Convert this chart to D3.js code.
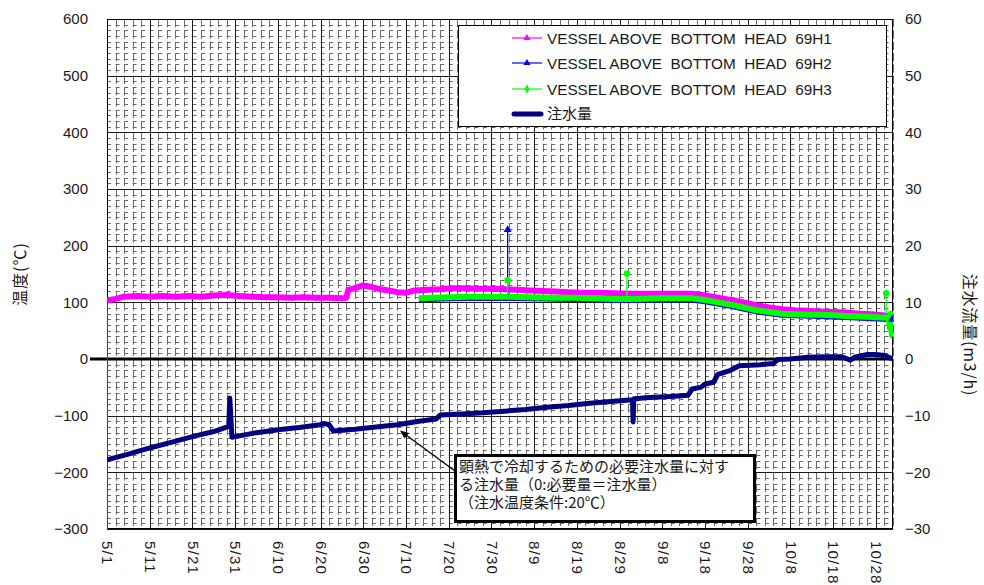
<!DOCTYPE html>
<html><head><meta charset="utf-8">
<script src="https://cdn.jsdelivr.net/npm/d3@7"></script>
<style>
body{margin:0;background:#fff}
svg{display:block}
text{font-family:"Liberation Sans",Arial,sans-serif;fill:#1a1a1a}
.cjk{font-family:"Noto Sans CJK JP","Noto Sans CJK SC",sans-serif}
</style>
</head><body>
<svg id="c" width="984" height="585"></svg>
<script>
// ---------------- data ----------------
const xTickLabels = ["5/1","5/11","5/21","5/31","6/10","6/20","6/30","7/10","7/20","7/30","8/9","8/19","8/29","9/8","9/18","9/28","10/8","10/18","10/28"];
const leftTicks = [600,500,400,300,200,100,0,-100,-200,-300];
const rightTicks = [60,50,40,30,20,10,0,-10,-20,-30];

const h1Dates = ["5/1 1","5/3","5/5","5/8","5/11","5/14","5/17","5/20","5/23","5/26","5/29","6/1","6/4","6/7","6/10","6/13","6/16","6/19","6/22","6/25","6/26","6/26 12","6/28","6/30","7/2","7/4","7/6","7/8","7/10","7/12","7/15","7/18","7/21","7/24","7/27","7/30","8/2","8/5","8/8","8/11","8/14","8/17","8/20","8/24","8/28","9/1","9/5","9/10","9/15","9/18","9/21","9/24","9/27","9/30","10/3","10/6","10/9","10/12","10/15","10/18","10/21","10/24","10/27","10/30","11/1"];
const h1Values = [103,106,110,111,110,111,110,111,110,112,113,111,110,109,109,108,109,108,108,107,108,122,125,130,127,123,121,118,117,121,122,123,125,125,124,124,123,122,121,120,119,118,117,117,116,115,115,115,115,112,108,104,100,95,91,88,86,85,84,83,82,80,79,77,74];

const h2Dates = ["7/13","7/20","7/30","8/8","8/18","8/28","9/7","9/15","9/18","9/21","9/24","9/27","9/30","10/3","10/6","10/9","10/15","10/21","10/27","10/30","10/31 19"];
const h2Values = [105,107,108,107,106,104,105,105,102,98,94,89,84,81,78,77,76,74,72,71,70];

const h3Dates = ["7/13","7/16","7/20","7/25","7/30","8/3","8/8","8/13","8/18","8/23","8/28","9/2","9/7","9/12","9/15","9/18","9/21","9/24","9/27","9/30","10/3","10/6","10/9","10/12","10/15","10/18","10/21","10/24","10/27","10/30","10/31","10/31 6","10/31 12","10/31 18","11/1"];
const h3Values = [107,108,109,110,110,110,109,108,108,107,106,106,107,107,107,104,100,96,91,86,83,80,79,78,78,77,76,75,74,73,72,55,80,42,40];

const flowDates = ["5/1","5/6","5/11","5/16","5/21","5/26","5/29 12","5/29 18","5/30 6","5/31","6/5","6/10","6/15","6/20","6/21","6/22","6/23","6/28","7/3","7/8","7/13","7/17","7/18","7/23","7/28","8/2","8/7","8/12","8/17","8/22","8/27","9/1","9/1 4","9/1 8","9/5","9/10","9/14","9/15","9/17","9/18","9/20","9/21","9/24","9/26","10/1","10/4","10/5","10/8","10/12","10/16","10/20","10/22","10/23","10/26","10/28","10/30","11/1"];
const flowValues = [-17.8,-16.8,-15.7,-14.7,-13.7,-12.8,-11.9,-6.9,-13.8,-13.7,-13.0,-12.5,-12.1,-11.6,-11.4,-11.6,-12.7,-12.4,-12.0,-11.6,-11.0,-10.6,-9.9,-9.7,-9.5,-9.2,-8.9,-8.5,-8.2,-7.8,-7.5,-7.2,-11.1,-7.0,-6.8,-6.6,-6.4,-5.3,-5.0,-4.4,-4.1,-2.7,-2.0,-1.2,-1.0,-0.8,-0.1,0.0,0.3,0.4,0.4,-0.2,0.3,0.8,0.8,0.6,0.0];

// single-reading spikes
const spikeSeries = ["H1","H2","H3","H3","H3"];
const spikeDates = ["5/1","8/2 19","8/2 19","8/30 17","10/30 10"];
const spikeFrom = [103,110,110,107,74];
const spikeTo = [-300,228,139,151,116];

const legendLabels = ["VESSEL ABOVE  BOTTOM  HEAD  69H1","VESSEL ABOVE  BOTTOM  HEAD  69H2","VESSEL ABOVE  BOTTOM  HEAD  69H3","注水量"];
const noteLines = ["顕熱で冷却するための必要注水量に対す","る注水量（0:必要量＝注水量）","（注水温度条件:20℃）"];
const leftTitle = "温度(℃)";
const rightTitle = "注水流量(m3/h)";

// ---------------- setup ----------------
const parse = d3.timeParse("%Y/%m/%d %H");
const P = s => parse("2011/" + (s.includes(" ") ? s : s + " 0"));
const zip = (ds, vs) => ds.map((d, i) => ({date: P(d), v: vs[i]}));

const L = 107, R = 893, T = 19, B = 529;
const svg = d3.select("#c");
const x = d3.scaleTime().domain([P("5/1"), P("11/1")]).range([L, R]);
const yL = d3.scaleLinear().domain([-300, 600]).range([B, T]);
const yR = d3.scaleLinear().domain([-30, 60]).range([B, T]);

svg.append("defs").append("clipPath").attr("id","clip")
  .append("rect").attr("x", L).attr("y", T).attr("width", R - L).attr("height", B - T);

// ---------------- grid ----------------
const start = P("5/1");
const minorDays = d3.range(0, 185, 2).map(d => d3.timeDay.offset(start, d));
const majorDays = d3.range(0, 185, 10).map(d => d3.timeDay.offset(start, d));
const cellW = x(d3.timeDay.offset(start, 2)) - x(start);
const rowH = yL(0) - yL(10);
const g = svg.append("g");
g.selectAll(".mh").data(d3.range(-290, 600, 10).filter(v => v % 100 !== 0)).join("line")
  .attr("x1", L).attr("x2", R)
  .attr("y1", d => Math.round(yL(d)) + 0.5).attr("y2", d => Math.round(yL(d)) + 0.5)
  .attr("stroke", "#6a6a6a").attr("stroke-width", 1)
  .attr("stroke-dasharray", `4 ${cellW - 4}`);
g.selectAll(".mv").data(minorDays).join("line")
  .attr("x1", d => Math.round(x(d)) + 0.5).attr("x2", d => Math.round(x(d)) + 0.5)
  .attr("y1", T).attr("y2", B)
  .attr("stroke", "#6a6a6a").attr("stroke-width", 1)
  .attr("stroke-dasharray", `${2 * rowH - 3} 3`);
g.selectAll(".Mh").data(leftTicks).join("line")
  .attr("x1", L).attr("x2", R)
  .attr("y1", d => Math.round(yL(d)) + 0.5).attr("y2", d => Math.round(yL(d)) + 0.5)
  .attr("stroke", "#1a1a1a").attr("stroke-width", 1);
g.selectAll(".Mv").data(majorDays).join("line")
  .attr("x1", d => Math.round(x(d)) + 0.5).attr("x2", d => Math.round(x(d)) + 0.5)
  .attr("y1", T).attr("y2", B)
  .attr("stroke", "#1a1a1a").attr("stroke-width", 1);
svg.append("rect").attr("x", L + 0.5).attr("y", T + 0.5).attr("width", R - L - 1).attr("height", B - T - 1)
  .attr("fill", "none").attr("stroke", "#000").attr("stroke-width", 1);

// zero line
svg.append("line").attr("x1", 90).attr("x2", R).attr("y1", yL(0)).attr("y2", yL(0))
  .attr("stroke", "#000").attr("stroke-width", 3);

// ---------------- axes ----------------
const ax = svg.append("g").attr("transform", `translate(${L},0)`)
  .call(d3.axisLeft(yL).tickValues(leftTicks).tickSize(0).tickPadding(19));
ax.select(".domain").remove();
ax.selectAll("text").attr("font-size", 15).style("font-family", '"Liberation Sans",Arial,sans-serif').attr("fill", "#1a1a1a");

const ar = svg.append("g").attr("transform", `translate(${R},0)`)
  .call(d3.axisRight(yR).tickValues(rightTicks).tickSize(0).tickPadding(12));
ar.select(".domain").remove();
ar.selectAll("text").attr("font-size", 15).style("font-family", '"Liberation Sans",Arial,sans-serif').attr("fill", "#1a1a1a");

const ab = svg.append("g").attr("transform", `translate(0,${B})`)
  .call(d3.axisBottom(x).tickValues(xTickLabels.map(P)).tickFormat((d, i) => xTickLabels[i]).tickSize(0));
ab.select(".domain").remove();
ab.selectAll("text").attr("font-size", 15).style("font-family", '"Liberation Sans",Arial,sans-serif')
  .attr("fill", "#1a1a1a").style("letter-spacing", "1.2px")
  .attr("transform", "rotate(90)").attr("x", 12).attr("y", 0).attr("dy", "0.35em").style("text-anchor", "start");

svg.append("text").attr("class", "cjk").attr("font-size", 16).style("letter-spacing", "1px")
  .attr("transform", "translate(20,274) rotate(-90)").attr("text-anchor", "middle").attr("dy", "0.35em").text(leftTitle);
svg.append("text").attr("class", "cjk").attr("font-size", 16).style("letter-spacing", "0.8px")
  .attr("transform", "translate(970,335) rotate(90)").attr("text-anchor", "middle").attr("dy", "0.35em").text(rightTitle);

// ---------------- series ----------------
const plot = svg.append("g").attr("clip-path", "url(#clip)");
const lineL = d3.line().x(d => x(d.date)).y(d => yL(d.v));
const lineR = d3.line().x(d => x(d.date)).y(d => yR(d.v));
const colors = {H1: "#ff00ff", H2: "#0000ff", H3: "#00ff00"};

plot.append("path").datum(zip(h1Dates, h1Values)).attr("d", lineL)
  .attr("fill", "none").attr("stroke", colors.H1).attr("stroke-width", 6).attr("stroke-linejoin", "round");
plot.append("path").datum(zip(h2Dates, h2Values)).attr("d", lineL)
  .attr("fill", "none").attr("stroke", colors.H2).attr("stroke-width", 6).attr("stroke-linejoin", "round");
plot.append("path").datum(zip(h3Dates, h3Values)).attr("d", lineL)
  .attr("fill", "none").attr("stroke", colors.H3).attr("stroke-width", 6).attr("stroke-linejoin", "round");

const spikes = spikeSeries.map((s, i) => ({s, date: P(spikeDates[i]), from: spikeFrom[i], to: spikeTo[i]}));
const sp = plot.selectAll(".spk").data(spikes).join("g");
sp.append("line")
  .attr("x1", d => x(d.date)).attr("x2", d => x(d.date))
  .attr("y1", d => yL(d.from)).attr("y2", d => yL(d.to))
  .attr("stroke", d => colors[d.s]).attr("stroke-width", 1.3);
const tri = d3.symbol().type(d3.symbolTriangle).size(28);
const dia = d3.symbol().type(d3.symbolCircle).size(34);
sp.filter(d => d.s === "H2").append("path").attr("d", tri)
  .attr("transform", d => `translate(${x(d.date)},${yL(d.to)})`).attr("fill", colors.H2);
sp.filter(d => d.s === "H3").append("path").attr("d", dia)
  .attr("transform", d => `translate(${x(d.date)},${yL(d.to)})`).attr("fill", colors.H3);
const h2last = zip(h2Dates, h2Values).slice(-1)[0];
plot.append("path").attr("d", tri).attr("transform", `translate(${x(h2last.date)},${yL(h2last.v)})`).attr("fill", colors.H2);

plot.append("path").datum(zip(flowDates, flowValues)).attr("d", lineR)
  .attr("fill", "none").attr("stroke", "#000080").attr("stroke-width", 5).attr("stroke-linejoin", "round");

// ---------------- legend ----------------
const lg = svg.append("g");
lg.append("rect").attr("x", 458.5).attr("y", 25.5).attr("width", 428).attr("height", 101)
  .attr("fill", "#fff").attr("stroke", "#000").attr("stroke-width", 1);
const rowsY = [38, 63, 89, 114];
const lgColors = [colors.H1, colors.H2, colors.H3, "#000080"];
legendLabels.forEach((t, i) => {
  const yy = rowsY[i];
  if (i < 3) {
    lg.append("line").attr("x1", 512).attr("x2", 542).attr("y1", yy).attr("y2", yy)
      .attr("stroke", lgColors[i]).attr("stroke-width", 1.2);
    lg.append("path").attr("d", i === 2 ? d3.symbol().type(d3.symbolDiamond).size(24) : d3.symbol().type(d3.symbolTriangle).size(22))
      .attr("transform", `translate(527,${yy})`).attr("fill", lgColors[i]);
  } else {
    lg.append("line").attr("x1", 514).attr("x2", 541).attr("y1", yy).attr("y2", yy)
      .attr("stroke", lgColors[i]).attr("stroke-width", 5).attr("stroke-linecap", "round");
  }
  lg.append("text").attr("x", 547).attr("y", yy).attr("dy", "0.36em")
    .attr("class", i === 3 ? "cjk" : null)
    .attr("font-size", i === 3 ? 15 : 15.3).style("white-space", "pre").attr("xml:space", "preserve").text(t);
});

// ---------------- annotation ----------------
svg.append("line").attr("x1", 455).attr("y1", 471).attr("x2", 402).attr("y2", 432)
  .attr("stroke", "#000").attr("stroke-width", 1.3);
svg.append("path").attr("d", "M400,430.5 L409,433 L404.5,438.5 Z").attr("fill", "#000");
svg.append("rect").attr("x", 455.5).attr("y", 455.5).attr("width", 299).attr("height", 66)
  .attr("fill", "#fff").attr("stroke", "#000").attr("stroke-width", 3);
noteLines.forEach((t, i) => {
  svg.append("text").attr("class", "cjk").attr("x", 459).attr("y", 472 + i * 18)
    .attr("font-size", 15).text(t);
});
</script>
</body></html>
